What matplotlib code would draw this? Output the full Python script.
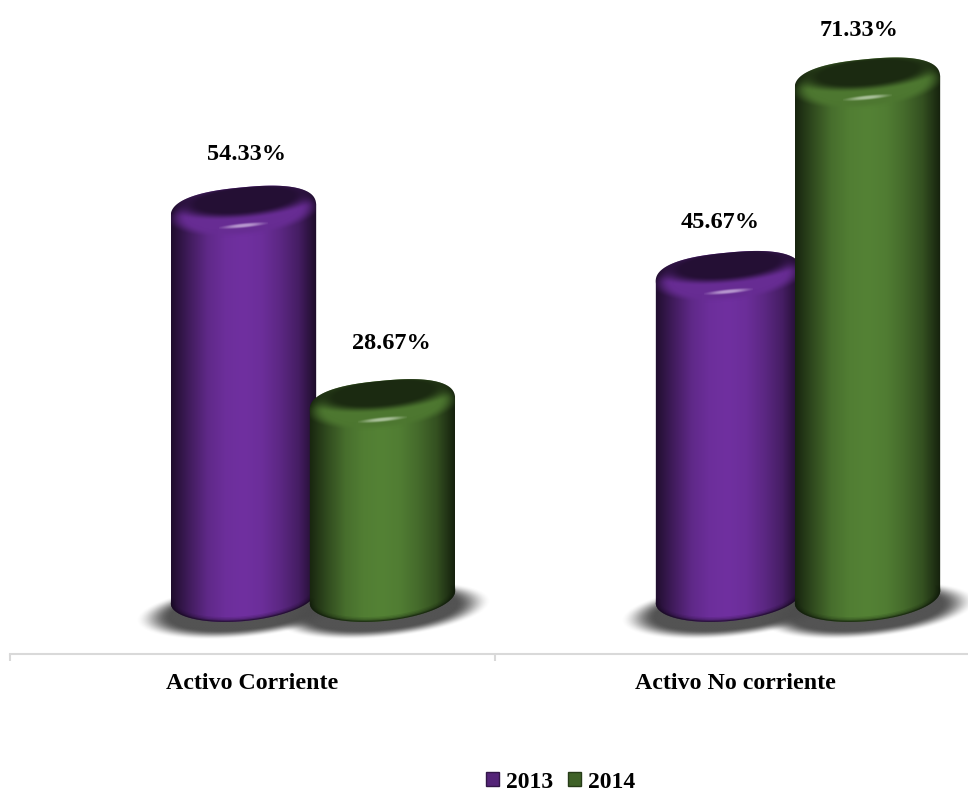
import numpy as np
import matplotlib
matplotlib.use('Agg')
import matplotlib.pyplot as plt
from matplotlib.colors import LinearSegmentedColormap, to_rgb
from matplotlib.patches import Patch
from matplotlib.path import Path
from matplotlib.transforms import ScaledTranslation

# data
categories = ['Activo Corriente', 'Activo No corriente']
years = ['2013', '2014']
values_2013 = [54.33, 45.67]
values_2014 = [28.67, 71.33]
base_colors = ['#7030a0', '#548235']

plt.rcParams['font.family'] = ['Liberation Serif', 'DejaVu Serif']
plt.rcParams['font.weight'] = 'bold'

# scale of the axes in pixels, the shapes are worked out in pixels
px_x = 485.0
px_y = 7.54
half_w = 73.0
half_h = 24.0
tilt = np.radians(5.5)
bar_shift = [-9.0, 130.0]
# manual label placement (pixels from the top of the bar)
label_offsets = [[(3, 33), (-8, 30)], [(9, 37), (-8, 29)]]


def ellipse_xy(cx, cy, t, a=half_w, b=half_h, n=2.0):
    # n above 2 squares the ellipse off a little, like the bevelled cap
    c = np.sign(np.cos(t)) * np.abs(np.cos(t)) ** (2 / n)
    s = np.sign(np.sin(t)) * np.abs(np.sin(t)) ** (2 / n)
    dx = a * c * np.cos(tilt) - b * s * np.sin(tilt)
    dy = a * c * np.sin(tilt) + b * s * np.cos(tilt)
    return cx + dx / px_x, cy + dy / px_y


def soft_ellipse(ax, cx, cy, a, b, color, soft, zorder, alpha=1.0, clip=None):
    # ellipse with a blurred edge, drawn as an RGBA image
    ext_x = (a + soft * 2) * 1.1
    ext_y = (b + soft * 2) * 1.5
    xx, yy = np.meshgrid(np.linspace(-ext_x, ext_x, 400), np.linspace(-ext_y, ext_y, 200))
    u = (xx * np.cos(tilt) + yy * np.sin(tilt)) / a
    v = (-xx * np.sin(tilt) + yy * np.cos(tilt)) / b
    r = np.sqrt(u ** 2 + v ** 2)
    edge = soft / min(a, b)
    mask = np.clip((1 + edge / 2 - r) / edge, 0, 1)
    mask = mask * mask * (3 - 2 * mask)
    img = np.zeros(r.shape + (4,))
    img[..., :3] = to_rgb(color)
    img[..., 3] = mask * alpha
    im = ax.imshow(img, origin='lower', aspect='auto', zorder=zorder,
                   extent=(cx - ext_x / px_x, cx + ext_x / px_x, cy - ext_y / px_y, cy + ext_y / px_y))
    if clip is not None:
        im.set_clip_path(clip, transform=ax.transData)
    return im


def draw_cylinder(ax, x, value, color, z):
    base = np.array(to_rgb(color))
    top_y = value - half_h / px_y

    t_top = np.linspace(np.pi, 0, 120)
    t_bot = np.linspace(0, -np.pi, 80)
    xt, yt = ellipse_xy(x, top_y, t_top, n=2.5)
    xb, yb = ellipse_xy(x, 0, t_bot)
    verts = np.column_stack([np.r_[xt, xb, xt[0]], np.r_[yt, yb, yt[0]]])
    outline = Path(verts, closed=True)

    # side of the cylinder
    shade = [0.28, 0.58, 0.85, 0.97, 1.0, 0.96, 0.82, 0.62, 0.25]
    cmap = LinearSegmentedColormap.from_list('side', [tuple(base * s) for s in shade])
    grad = np.linspace(0, 1, 256).reshape(1, -1)
    left = x - half_w / px_x
    right = x + half_w / px_x
    im = ax.imshow(grad, cmap=cmap, aspect='auto', zorder=z,
                   extent=(left, right, -half_h * 1.3 / px_y, value + 1))
    im.set_clip_path(outline, transform=ax.transData)

    # dark rim along the bottom
    dark = tuple(base * 0.22)
    for lw, a in [(7, 0.10), (5, 0.15), (3, 0.3), (1.5, 0.6)]:
        line, = ax.plot(xb, yb, color=dark, lw=lw, alpha=a, zorder=z + 0.1)
        line.set_clip_path(outline, transform=ax.transData)

    # lighter bevel round the cap
    soft_ellipse(ax, x, value - 25 / px_y, 67, 21, tuple(base * 0.92), 7, z + 0.15, clip=outline)

    # top face
    cap_y = value - 13 / px_y
    soft_ellipse(ax, x + 1 / px_x, cap_y, 64, 15, tuple(base * 0.33), 8, z + 0.2, clip=outline)
    # small glare on the front
    glare_y = value - 39 / px_y
    soft_ellipse(ax, x, glare_y, 17, 1.7, tuple(base * 0.5 + 0.5), 2.5, z + 0.3, clip=outline)


fig = plt.figure(figsize=(9.68, 7.92), dpi=100)
ax = fig.add_axes([10 / 968, (792 - 654) / 792, (968 - 10) / 968, 654 / 792])

series = [values_2013, values_2014]

# floor shadows first
for s, vals in enumerate(series):
    for c in range(len(categories)):
        sx = c + bar_shift[s] / px_x
        soft_ellipse(ax, sx, -13.5 / px_y, 91, 23, '#4d4d4d', 9, 1, alpha=0.97)

z = 2
for c in range(len(categories)):
    for s, vals in enumerate(series):
        sx = c + bar_shift[s] / px_x
        draw_cylinder(ax, sx, vals[c], base_colors[s], z)
        z += 1
        dx, dy = label_offsets[s][c]
        ax.annotate('%.2f%%' % vals[c], (sx, vals[c]), xytext=(dx * 0.72, dy * 0.72),
                    textcoords='offset points', ha='center', va='center', fontsize=17.5,
                    fontweight='bold', color='black', zorder=50)

ax.set_xticks([-0.5, 0.5, 1.5])
ax.set_xticklabels([])
ax.set_xticks([0, 1], labels=categories, minor=True)
ax.tick_params(axis='x', which='major', length=5, width=1.5, color='#d9d9d9')
ax.tick_params(axis='x', which='minor', length=0, pad=13.5, labelsize=17.2)
ax.set_yticks([])
for side in ['top', 'left', 'right']:
    ax.spines[side].set_visible(False)
ax.spines['bottom'].set_color('#d9d9d9')
ax.spines['bottom'].set_linewidth(1.5)

# second label sits a bit left of its tick
lab = ax.get_xticklabels(minor=True)[1]
lab.set_transform(lab.get_transform() + ScaledTranslation(-2.5 / 100, 0, fig.dpi_scale_trans))

# limits last, set_xticks would widen them
ax.set_xlim(-0.5, (968 - 252.5) / px_x)
ax.set_ylim(-57 / px_y, 597 / px_y)

handles = [Patch(facecolor=tuple(np.array(to_rgb(col)) * 0.75), edgecolor=tuple(np.array(to_rgb(col)) * 0.45),
                 linewidth=1.0, label=y) for y, col in zip(years, base_colors)]
fig.legend(handles=handles, loc='center', bbox_to_anchor=(561 / 968, 1 - 782 / 792), ncol=2, frameon=False,
           fontsize=17, handlelength=0.55, handleheight=0.55, handletextpad=0.3, columnspacing=0.62,
           borderpad=0, borderaxespad=0)

fig.savefig('out.png', dpi=100)
